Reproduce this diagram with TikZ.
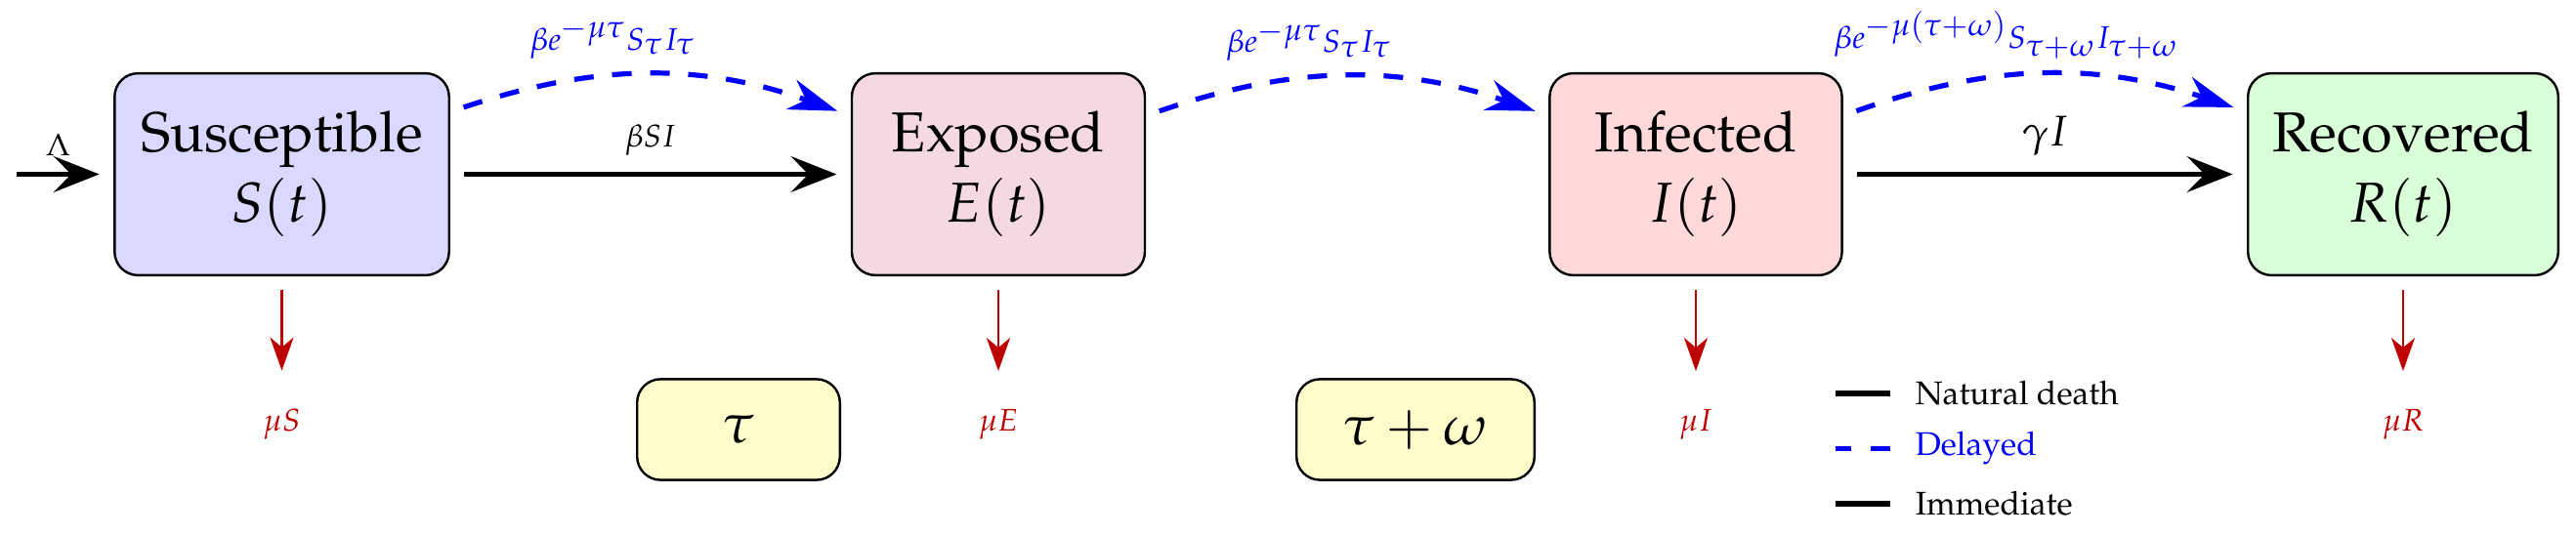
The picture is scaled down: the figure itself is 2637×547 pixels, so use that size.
\documentclass[tikz,border=0pt]{standalone}
\usepackage[T1]{fontenc}
\usepackage{mathpazo}
\DeclareMathSizes{8}{8}{8}{6}
\usetikzlibrary{arrows.meta}
\definecolor{deathred}{RGB}{190,0,0}
\begin{document}
\begin{tikzpicture}[x=0.25pt,y=0.25pt,
  comp/.style={draw=black, line width=0.6pt, rounded corners=6pt, minimum height=51.7pt,
    align=center, font=\Large, inner xsep=2pt},
  delaybox/.style={draw=black, line width=0.6pt, rounded corners=6pt, fill=yellow!20,
    minimum height=25.8pt, font=\Large},
  imm/.style={line width=1.4pt, -{Stealth[length=11.7pt,width=9.2pt,inset=4.5pt]},
    shorten >=3.6pt, shorten <=3.6pt},
  delayed/.style={draw=blue, line width=1.3pt, dash pattern=on 5pt off 4.75pt,
    -{Stealth[length=12.5pt,width=8pt,inset=4pt]}, shorten >=3.6pt, shorten <=3.6pt},
  death/.style={draw=deathred, line width=0.6pt, -{Stealth[length=8.5pt,width=6pt,inset=2.5pt]},
    shorten >=9.5pt, shorten <=3.5pt},
  flowlbl/.style={above=1.5pt, inner sep=2.5pt, font=\fontsize{8}{10}\selectfont},
  dlbl/.style={above=1.5pt, inner sep=2.5pt, text=blue, font=\fontsize{8}{10}\selectfont},
  deathlbl/.style={anchor=base, inner sep=0pt, text=deathred, font=\fontsize{8}{10}\selectfont},
  legtext/.style={anchor=west, inner sep=0pt, font=\fontsize{8.4}{10}\selectfont},
  legline/.style={line width=1.4pt},
]
\useasboundingbox (0,0) rectangle (2637,547);

% compartments
\node[comp, fill=blue!15, minimum width=85.6pt] (S) at (288.5,368.5) {Susceptible\\$S(t)$};
\node[comp, fill=purple!15, minimum width=75pt] (E) at (1022,368.5) {Exposed\\$E(t)$};
\node[comp, fill=red!15, minimum width=74.8pt] (I) at (1736,368.5) {Infected\\$I(t)$};
\node[comp, fill=green!15, minimum width=79.4pt] (R) at (2460,368.5) {Recovered\\$R(t)$};

% delay boxes
\node[delaybox, minimum width=51.9pt] (d1) at (756,107) {$\tau$};
\node[delaybox, minimum width=60.9pt] (d2) at (1449,107) {$\tau+\omega$};

% death labels
\node[deathlbl] (mS) at (288.5,106) {$\mu S$};
\node[deathlbl] (mE) at (1022,106) {$\mu E$};
\node[deathlbl] (mI) at (1736,106) {$\mu I$};
\node[deathlbl] (mR) at (2460,106) {$\mu R$};

% inflow
\coordinate (in) at (17,368.5);
\draw[imm, shorten <=0pt] (in) -- node[flowlbl, xshift=-1.75pt] {$\Lambda$} (S.west);

% immediate flows
\draw[imm] (S.east) -- node[flowlbl] {$\beta SI$} (E.west);
\draw[imm] (I.east) -- node[flowlbl, font=\fontsize{11}{13}\selectfont] {$\gamma I$} (R.west);

% delayed flows
\draw[delayed] ([yshift=16pt]S.east) to[bend left=19]
  node[pos=0.4, dlbl] {$\beta e^{-\mu\tau}S_\tau I_\tau$} ([yshift=15pt]E.west);
\draw[delayed] ([yshift=15pt]E.east) to[bend left=19]
  node[pos=0.4, dlbl] {$\beta e^{-\mu\tau}S_\tau I_\tau$} ([yshift=15pt]I.west);
\draw[delayed] ([yshift=15pt]I.east) to[bend left=19]
  node[pos=0.4, dlbl] {$\beta e^{-\mu(\tau+\omega)}S_{\tau+\omega}I_{\tau+\omega}$} ([yshift=16pt]R.west);

% natural death
\draw[death] (S.south) -- (mS);
\draw[death] (E.south) -- (mE);
\draw[death] (I.south) -- (mI);
\draw[death] (R.south) -- (mR);

% legend
\node[legtext] (L1) at (1960,144.3) {Natural death};
\node[legtext, text=blue] (L2) at (1960,87.7) {Delayed};
\node[legtext] (L3) at (1960,31.3) {Immediate};
\draw[legline] ([xshift=-6.25pt]L1.west) -- ++(-55.7,0);
\draw[legline, blue, dash pattern=on 5pt off 5pt] ([xshift=-6.25pt]L2.west) -- ++(-55.7,0);
\draw[legline] ([xshift=-6.25pt]L3.west) -- ++(-55.7,0);
\end{tikzpicture}
\end{document}
